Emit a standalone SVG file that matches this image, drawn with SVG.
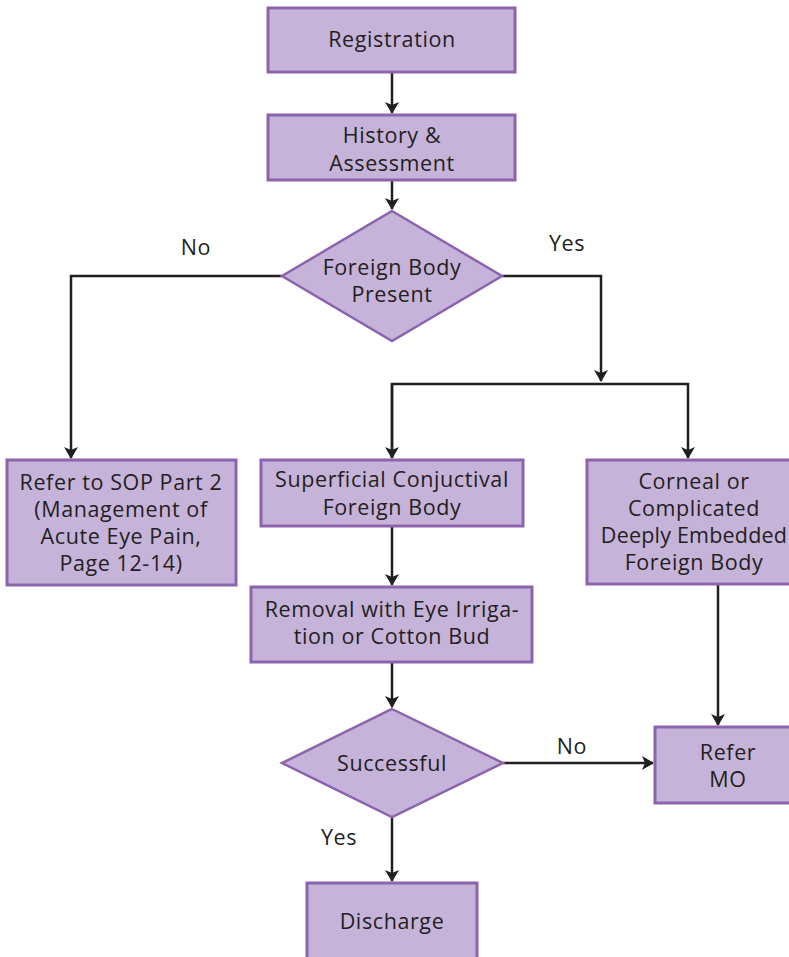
<svg xmlns="http://www.w3.org/2000/svg" width="789" height="957" viewBox="0 0 789 957">
<defs>
<style>
.b{fill:#c6b3d9;stroke:#8e63ad;stroke-width:3}
.d{fill:#c6b3d9;stroke:#8e63ad;stroke-width:2.5}
.t{font-family:"Open Sans","Noto Sans",sans-serif;font-size:21.5px;letter-spacing:0.6px;fill:#231f20;text-anchor:middle}
.c{fill:none;stroke:#231f20;stroke-width:2.5}
</style>
<marker id="a" viewBox="0 0 12 16" refX="11" refY="8" markerWidth="12" markerHeight="16" markerUnits="userSpaceOnUse" orient="auto">
<path d="M0,1 L12,8 L0,15 L3,8 Z" fill="#231f20"/>
</marker>
</defs>
<rect width="789" height="957" fill="#fff"/>
<g id="connectors">
<path class="c" d="M392,72 V113" marker-end="url(#a)"/>
<path class="c" d="M392,180 V209" marker-end="url(#a)"/>
<path class="c" d="M282,276 H71 V458" marker-end="url(#a)"/>
<path class="c" d="M502,276 H601 V381" marker-end="url(#a)"/>
<path class="c" d="M392,458 V384 H688 V458" marker-end="url(#a)"/>
<path class="c" d="M392,384 V458" marker-end="url(#a)"/>
<path class="c" d="M392,526 V585" marker-end="url(#a)"/>
<path class="c" d="M392,662 V707" marker-end="url(#a)"/>
<path class="c" d="M718,584 V725" marker-end="url(#a)"/>
<path class="c" d="M503,763 H653" marker-end="url(#a)"/>
<path class="c" d="M392,817 V881" marker-end="url(#a)"/>
<text class="t" x="196" y="255">No</text>
<text class="t" x="567" y="251">Yes</text>
<text class="t" x="572" y="754">No</text>
<text class="t" x="339" y="845">Yes</text>
</g>
<g id="registration">
<rect class="b" x="268" y="8" width="247" height="64"/>
<text class="t" x="392" y="47">Registration</text>
</g>
<g id="history">
<rect class="b" x="268" y="115" width="247" height="65"/>
<text class="t" x="392" y="143">History &amp;</text>
<text class="t" x="392" y="171">Assessment</text>
</g>
<g id="foreign-body-present">
<polygon class="d" points="392,211 502,276 392,341 282,276"/>
<text class="t" x="392" y="275">Foreign Body</text>
<text class="t" x="392" y="302">Present</text>
</g>
<g id="refer-sop">
<rect class="b" x="7" y="460" width="229" height="125"/>
<text class="t" x="121" y="490">Refer to SOP Part 2</text>
<text class="t" x="121" y="517">(Management of</text>
<text class="t" x="121" y="544">Acute Eye Pain,</text>
<text class="t" x="121" y="571">Page 12-14)</text>
</g>
<g id="superficial">
<rect class="b" x="261" y="460" width="262" height="66"/>
<text class="t" x="392" y="487">Superficial Conjuctival</text>
<text class="t" x="392" y="515">Foreign Body</text>
</g>
<g id="corneal">
<rect class="b" x="587" y="460" width="208" height="124"/>
<text class="t" x="694" y="489">Corneal or</text>
<text class="t" x="694" y="516">Complicated</text>
<text class="t" x="694" y="543" style="letter-spacing:0.2px">Deeply Embedded</text>
<text class="t" x="694" y="570">Foreign Body</text>
</g>
<g id="removal">
<rect class="b" x="251" y="587" width="281" height="75"/>
<text class="t" x="392" y="617">Removal with Eye Irriga-</text>
<text class="t" x="392" y="644">tion or Cotton Bud</text>
</g>
<g id="successful">
<polygon class="d" points="392,709 503,763 392,817 282,763"/>
<text class="t" x="392" y="771">Successful</text>
</g>
<g id="refer-mo">
<rect class="b" x="655" y="727" width="140" height="76"/>
<text class="t" x="728" y="760">Refer</text>
<text class="t" x="728" y="787">MO</text>
</g>
<g id="discharge">
<rect class="b" x="307" y="883" width="170" height="80"/>
<text class="t" x="392" y="929">Discharge</text>
</g>
</svg>
